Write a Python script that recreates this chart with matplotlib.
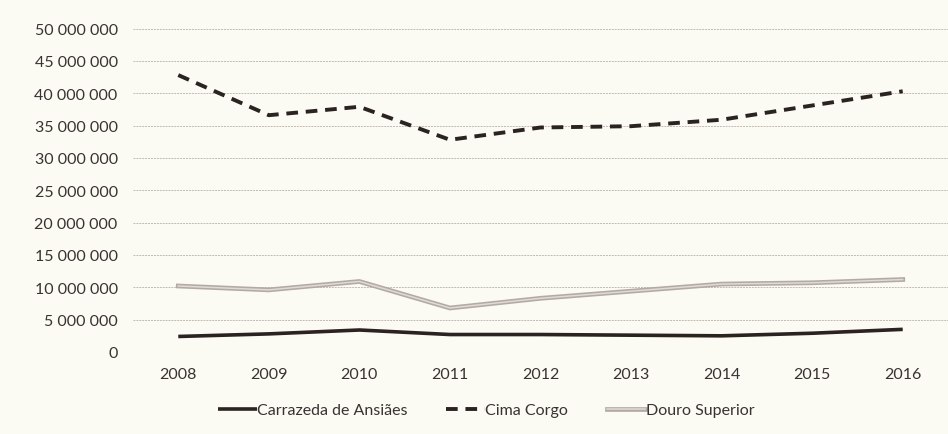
import matplotlib
matplotlib.use("Agg")
import matplotlib.pyplot as plt
import matplotlib.patheffects as pe
from matplotlib.ticker import FuncFormatter

# --- dados ---
anos = [2008, 2009, 2010, 2011, 2012, 2013, 2014, 2015, 2016]
carrazeda = [2_400_000, 2_800_000, 3_400_000, 2_700_000, 2_700_000, 2_600_000, 2_500_000, 2_900_000, 3_500_000]
cima_corgo = [42_800_000, 36_600_000, 37_900_000, 32_800_000, 34_700_000, 34_900_000, 35_900_000, 38_100_000, 40_300_000]
douro_superior = [10_200_000, 9_600_000, 10_900_000, 6_800_000, 8_300_000, 9_400_000, 10_500_000, 10_700_000, 11_200_000]

fundo = "#fbfaf3"
texto = "#3a3232"

plt.rcParams["font.family"] = ["Lato", "DejaVu Sans"]

fig = plt.figure(figsize=(9.48, 4.35), dpi=100, facecolor=fundo)
ax = fig.add_axes([133 / 948, 82 / 435, 815 / 948, 323.5 / 435])
ax.set_facecolor(fundo)

ax.plot(anos, carrazeda, color="#2b2222", linewidth=2.6, label="Carrazeda de Ansiães",
        solid_capstyle="butt")
ax.plot(anos, cima_corgo, color="#2b2222", linewidth=2.8, dashes=(3, 2),
        label="Cima Corgo", dash_capstyle="butt")
ax.plot(anos, douro_superior, color="#e0dad4", linewidth=1.1, label="Douro Superior",
        path_effects=[pe.Stroke(linewidth=3.4, foreground="#b3aaa5"), pe.Normal()])

ax.set_xlim(2007.5, 2016.5)
ax.set_ylim(0, 50_000_000)
ax.set_xticks(anos)
ax.set_yticks(range(0, 50_000_001, 5_000_000))
ax.yaxis.set_major_formatter(FuncFormatter(lambda v, p: f"{int(v):,}".replace(",", " ")))

ax.grid(axis="y", color="#c4bab2", linewidth=0.7, linestyle=(0, (2, 1)))
ax.set_axisbelow(True)
for s in ax.spines.values():
    s.set_visible(False)
ax.tick_params(length=0, labelsize=11.5, colors=texto)
ax.tick_params(axis="y", pad=11)
ax.tick_params(axis="x", pad=11)

leg = fig.legend(loc="lower center", bbox_to_anchor=(0.513, 0.005), ncol=3, frameon=False,
                 fontsize=11.5, handlelength=2.4, handletextpad=0.05, columnspacing=2.4,
                 labelcolor=texto)

fig.savefig("out.png", dpi=100, facecolor=fundo)
